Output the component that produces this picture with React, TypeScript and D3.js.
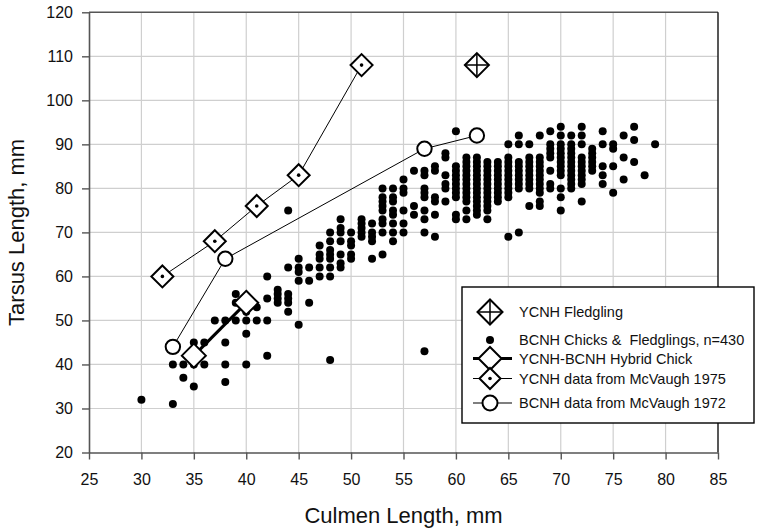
import React, { useEffect, useRef } from "react"
import * as d3 from "d3"

// BCNH chicks & fledglings: culmen (mm) -> list of tarsus values (mm) read column by column
const bcnhColumns: [number, number[]][] = [
  [30, [32]],
  [33, [31, 40]],
  [34, [37, 40]],
  [35, [35, 40, 45]],
  [36, [40, 45]],
  [37, [50]],
  [38, [36, 40, 45, 50]],
  [39, [50, 54, 56]],
  [40, [40, 47, 50, 52]],
  [41, [50, 53]],
  [42, [42, 50, 55, 60]],
  [43, [54, 55, 56, 57]],
  [44, [52, 54, 55, 56, 62, 75]],
  [45, [49, 59, 61, 62, 64]],
  [46, [54, 59, 62]],
  [47, [60, 62, 64, 65, 67]],
  [48, [41, 60, 62, 64, 65, 66, 68, 70]],
  [49, [62, 63, 65, 68, 70, 71, 73]],
  [50, [64, 65, 67, 68, 70]],
  [51, [69, 70, 71, 72, 73]],
  [52, [64, 68, 69, 70, 72]],
  [53, [65, 70, 72, 73, 75, 76, 77, 78, 80]],
  [54, [68, 70, 72, 74, 75, 77, 78, 80]],
  [55, [70, 72, 75, 79, 80, 82]],
  [56, [74, 76, 84]],
  [57, [43, 70, 73, 75, 78, 79, 80, 83, 84]],
  [58, [69, 74, 77, 78, 84, 85]],
  [59, [77, 80, 81, 83, 87, 88]],
  [60, [73, 74, 78, 79, 80, 81, 82, 83, 84, 85, 93]],
  [61, [73, 75, 77, 78, 79, 80, 81, 82, 83, 84, 85, 86, 87]],
  [62, [74, 75, 76, 77, 78, 79, 80, 81, 82, 83, 84, 85, 86, 87]],
  [63, [73, 75, 76, 77, 78, 79, 80, 81, 82, 83, 84, 85, 86]],
  [64, [77, 78, 79, 80, 81, 82, 83, 84, 85, 86]],
  [65, [69, 78, 79, 80, 81, 82, 83, 84, 85, 86, 87, 90]],
  [66, [70, 80, 81, 82, 83, 84, 85, 86, 90, 92]],
  [67, [76, 80, 81, 82, 83, 84, 85, 86, 87, 90]],
  [68, [76, 77, 79, 80, 81, 82, 83, 84, 85, 86, 87, 92]],
  [69, [80, 81, 84, 87, 88, 89, 90, 93]],
  [70, [75, 78, 80, 83, 84, 85, 86, 87, 88, 89, 90, 92, 94]],
  [71, [80, 81, 82, 83, 84, 85, 86, 87, 88, 89, 90, 92]],
  [72, [77, 81, 82, 83, 84, 85, 86, 87, 90, 92, 94]],
  [73, [84, 85, 86, 87, 88, 89]],
  [74, [81, 83, 85, 90, 93]],
  [75, [79, 85, 89, 90]],
  [76, [82, 87, 92]],
  [77, [86, 91, 94]],
  [78, [83]],
  [79, [90]],
]

const fledglingCulmen = [62]
const fledglingTarsus = [108]

const hybridCulmen = [35, 40]
const hybridTarsus = [42, 54]

const ycnh1975Culmen = [32, 37, 41, 45, 51]
const ycnh1975Tarsus = [60, 68, 76, 83, 108]

const bcnh1972Culmen = [33, 38, 57, 62]
const bcnh1972Tarsus = [44, 64, 89, 92]

const xTicks = [25, 30, 35, 40, 45, 50, 55, 60, 65, 70, 75, 80, 85]
const yTicks = [20, 30, 40, 50, 60, 70, 80, 90, 100, 110, 120]

const legendLabels = [
  "YCNH Fledgling",
  "BCNH Chicks &  Fledglings, n=430",
  "YCNH-BCNH Hybrid Chick",
  "YCNH data from McVaugh 1975",
  "BCNH data from McVaugh 1972",
]

const font = "'Liberation Sans', Arial, sans-serif"

const diamond = (r: number) => `M0,${-r}L${r},0L0,${r}L${-r},0Z`

export default function App() {
  const ref = useRef<SVGSVGElement>(null)

  useEffect(() => {
    const svg = d3.select(ref.current)
    svg.selectAll("*").remove()

    const left = 89, right = 718, top = 12.3, bottom = 452.5

    const x = d3.scaleLinear().domain([25, 85]).range([left, right])
    const y = d3.scaleLinear().domain([20, 120]).range([bottom, top])

    // grid
    const grid = svg.append("g")
    grid.selectAll(".vg")
      .data(xTicks.slice(1, -1))
      .enter().append("line")
      .attr("x1", d => x(d)).attr("x2", d => x(d))
      .attr("y1", top).attr("y2", bottom)
      .attr("stroke", "#cfcfcf").attr("stroke-width", 1.2)
    grid.selectAll(".hg")
      .data(yTicks.slice(1, -1))
      .enter().append("line")
      .attr("x1", left).attr("x2", right)
      .attr("y1", d => y(d)).attr("y2", d => y(d))
      .attr("stroke", "#cfcfcf").attr("stroke-width", 1.2)

    // frame top + right
    svg.append("line").attr("x1", left).attr("x2", right).attr("y1", top).attr("y2", top)
      .attr("stroke", "#555").attr("stroke-width", 1.5)
    svg.append("line").attr("x1", right).attr("x2", right).attr("y1", top).attr("y2", bottom)
      .attr("stroke", "#111").attr("stroke-width", 1.4)

    // axes
    const xAxis = svg.append("g")
      .attr("transform", `translate(0,${bottom})`)
      .call(d3.axisBottom(x).tickValues(xTicks).tickSize(7).tickSizeOuter(0).tickPadding(14))
    const yAxis = svg.append("g")
      .attr("transform", `translate(${left},0)`)
      .call(d3.axisLeft(y).tickValues(yTicks).tickSize(7).tickSizeOuter(0).tickPadding(9))
    for (const ax of [xAxis, yAxis]) {
      ax.select(".domain").attr("stroke", "#555").attr("stroke-width", 1.6)
      ax.selectAll(".tick line").attr("stroke", "#555").attr("stroke-width", 1.4)
      ax.selectAll(".tick text").attr("fill", "#111")
        .style("font-family", font).style("font-size", "16px")
    }

    // axis titles
    svg.append("text")
      .attr("x", (left + right) / 2).attr("y", 523)
      .attr("text-anchor", "middle")
      .style("font-family", font).style("font-size", "22px").attr("fill", "#111")
      .text("Culmen Length, mm")
    svg.append("text")
      .attr("transform", `translate(24,${(top + bottom) / 2}) rotate(-90)`)
      .attr("text-anchor", "middle")
      .style("font-family", font).style("font-size", "22px").attr("fill", "#111")
      .text("Tarsus Length, mm")

    // BCNH dots
    const dots = bcnhColumns.flatMap(([c, ts]) => ts.map(t => ({ c, t })))
    svg.append("g").selectAll("circle")
      .data(dots)
      .enter().append("circle")
      .attr("cx", d => x(d.c)).attr("cy", d => y(d.t))
      .attr("r", 4).attr("fill", "#000")

    const line = d3.line<[number, number]>().x(d => x(d[0])).y(d => y(d[1]))
    const zip = (a: number[], b: number[]) => a.map((v, i) => [v, b[i]] as [number, number])

    const s1975 = zip(ycnh1975Culmen, ycnh1975Tarsus)
    const s1972 = zip(bcnh1972Culmen, bcnh1972Tarsus)
    const sHybrid = zip(hybridCulmen, hybridTarsus)
    const sFledge = zip(fledglingCulmen, fledglingTarsus)

    svg.append("path").datum(s1975).attr("d", line)
      .attr("fill", "none").attr("stroke", "#000").attr("stroke-width", 1)
    svg.append("path").datum(s1972).attr("d", line)
      .attr("fill", "none").attr("stroke", "#000").attr("stroke-width", 1)
    svg.append("path").datum(sHybrid).attr("d", line)
      .attr("fill", "none").attr("stroke", "#000").attr("stroke-width", 3)

    // markers
    const drawDiamondDot = (g: any, r: number) => {
      g.append("path").attr("d", diamond(r)).attr("fill", "#fff").attr("stroke", "#000").attr("stroke-width", 2)
      g.append("circle").attr("r", 1.8).attr("fill", "#000")
    }
    const drawHybrid = (g: any, r: number) => {
      g.append("path").attr("d", diamond(r)).attr("fill", "#fff").attr("stroke", "#000").attr("stroke-width", 2)
    }
    const drawCircle = (g: any, r: number) => {
      g.append("circle").attr("r", r).attr("fill", "#fff").attr("stroke", "#000").attr("stroke-width", 2)
    }
    const drawCross = (g: any, r: number) => {
      g.append("path").attr("d", diamond(r)).attr("fill", "#fff").attr("stroke", "#000").attr("stroke-width", 2)
      g.append("path").attr("d", `M0,${-r}L0,${r}M${-r},0L${r},0`).attr("stroke", "#000").attr("stroke-width", 1.5)
    }

    s1975.forEach(d => drawDiamondDot(svg.append("g").attr("transform", `translate(${x(d[0])},${y(d[1])})`), 11))
    s1972.forEach(d => drawCircle(svg.append("g").attr("transform", `translate(${x(d[0])},${y(d[1])})`), 7.2))
    sHybrid.forEach(d => drawHybrid(svg.append("g").attr("transform", `translate(${x(d[0])},${y(d[1])})`), 12))
    sFledge.forEach(d => drawCross(svg.append("g").attr("transform", `translate(${x(d[0])},${y(d[1])})`), 12))

    // legend
    const lg = svg.append("g")
    lg.append("rect").attr("x", 462).attr("y", 287).attr("width", 292).attr("height", 136)
      .attr("fill", "#fff").attr("stroke", "#000").attr("stroke-width", 1.4)
    const rows = [312, 340, 358.5, 378.5, 403]
    const sx = 490
    legendLabels.forEach((lab, i) => {
      lg.append("text").attr("x", 519).attr("y", rows[i]).attr("dy", "0.35em")
        .style("font-family", font).style("font-size", "14.5px").style("white-space", "pre")
        .attr("fill", "#111").text(lab)
    })
    ;[2, 3, 4].forEach(i => {
      lg.append("line").attr("x1", 473).attr("x2", 512).attr("y1", rows[i]).attr("y2", rows[i])
        .attr("stroke", "#000").attr("stroke-width", i === 2 ? 3 : 1.2)
    })
    drawCross(lg.append("g").attr("transform", `translate(${sx},${rows[0]})`), 12.5)
    lg.append("circle").attr("cx", sx).attr("cy", rows[1]).attr("r", 4).attr("fill", "#000")
    drawHybrid(lg.append("g").attr("transform", `translate(${sx},${rows[2]})`), 11.5)
    drawDiamondDot(lg.append("g").attr("transform", `translate(${sx},${rows[3]})`), 10.5)
    drawCircle(lg.append("g").attr("transform", `translate(${sx},${rows[4]})`), 7.5)
  }, [])

  return (
    <svg ref={ref} width={759} height={529}
      style={{ position: "absolute", left: 0, top: 0, background: "#fff" }} />
  )
}
